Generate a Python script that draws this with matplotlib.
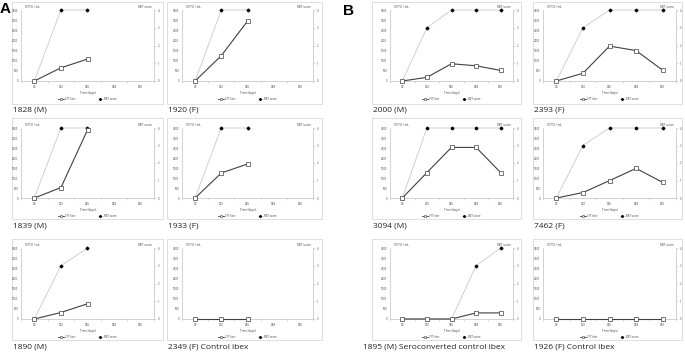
import numpy as np
import matplotlib.pyplot as plt
from matplotlib.patches import Rectangle
from matplotlib.lines import Line2D

W, H = 685, 352

days = ['D0', 'D20', 'D45', 'D68', 'D90']

# panel captions, A column pairs first then B
names = ['1828 (M)', '1920 (F)', '1839 (M)', '1933 (F)', '1890 (M)', '2349 (F) Control ibex',
         '2000 (M)', '2393 (F)', '3094 (M)', '7462 (F)',
         '1895 (M) Seroconverted control ibex', '1926 (F) Control ibex']

# CFT titer (ICFTU/mL)
cft = [[0, 650, 1080],
       [0, 1250, 2950],
       [0, 520, 3400],
       [0, 1250, 1700],
       [0, 320, 750],
       [0, 0, 0],
       [0, 180, 850, 750, 520],
       [0, 380, 1720, 1500, 530],
       [0, 1270, 2530, 2530, 1270],
       [0, 270, 870, 1480, 780],
       [0, 0, 0, 300, 300],
       [0, 0, 0, 0, 0]]

# RBT score
rbt = [[0, 4, 4],
       [0, 4, 4],
       [0, 4, 4],
       [0, 4, 4],
       [0, 3, 4],
       [0, 0, 0],
       [0, 3, 4, 4, 4],
       [0, 3, 4, 4, 4],
       [0, 4, 4, 4, 4],
       [0, 3, 4, 4, 4],
       [0, 0, 0, 3, 4],
       [0, 0, 0, 0, 0]]

# layout in pixels
cols = [(12, 21, 154, 163), (167, 182, 313, 322), (372, 390, 513, 521), (533, 543, 676, 682)]
rows = [(2, 10, 81, 104, 110), (118, 128, 198, 219, 226), (239, 248, 319, 340, 347)]
cap_x = {10: 363}

fig = plt.figure(figsize=(W / 100, H / 100), dpi=100)
plt.rcParams['font.family'] = ['Open Sans', 'DejaVu Sans']

edge = '#bfbfbf'
tfs = 2.0

for i in range(12):
    c = (i // 6) * 2 + (i % 2)
    r = (i % 6) // 2
    bl, pl, pr, br = cols[c]
    bt, pt, pb, bb, cy = rows[r]

    fig.patches.append(Rectangle((bl / W, 1 - bb / H), (br - bl) / W, (bb - bt) / H,
                                 transform=fig.transFigure, facecolor='white',
                                 edgecolor='#d9d9d9', lw=0.6, zorder=-5))

    ax = fig.add_axes([pl / W, 1 - pb / H, (pr - pl) / W, (pb - pt) / H])
    ax.set_facecolor('none')
    ax2 = ax.twinx()
    x = np.arange(len(cft[i]))

    ax2.plot(x, rbt[i], color='#c9c9c9', lw=0.6, marker='D', ms=1.4,
             mfc='black', mec='black', zorder=2, clip_on=False)
    ax.plot(x, cft[i], color='#404040', lw=0.8, marker='s', ms=2.4,
            mfc='white', mec='#404040', mew=0.5, zorder=3, clip_on=False)
    ax.set_zorder(ax2.get_zorder() + 1)

    ax.set_xlim(-0.5, 4.5)
    ax.set_ylim(0, 3500)
    ax2.set_ylim(0, 4)
    ax.set_yticks(np.arange(0, 3501, 500))
    ax2.set_yticks(range(5))
    ax.set_xticks(range(5))
    ax.set_xticklabels(days)
    ax.set_xticks(np.arange(-0.5, 4.6, 1), minor=True)

    for a in (ax, ax2):
        for s in a.spines.values():
            s.set_color(edge)
            s.set_linewidth(0.5)
        a.spines['top'].set_visible(False)
    ax.spines['right'].set_visible(False)
    ax2.spines['left'].set_visible(False)
    ax2.spines['bottom'].set_visible(False)

    ax.tick_params(axis='y', labelsize=tfs, length=0, pad=2, labelcolor='#404040')
    ax.tick_params(axis='x', which='major', labelsize=tfs, length=0, pad=3, labelcolor='#404040')
    ax.tick_params(axis='x', which='minor', length=1.5, width=0.4, color=edge)
    ax2.tick_params(axis='y', labelsize=tfs, length=1.5, width=0.4, color=edge, pad=1.5,
                    labelcolor='#404040')

    ax.text(0.03, 1.02, 'ICFTU / mL', transform=ax.transAxes, fontsize=2.2,
            color='#404040', va='bottom')
    ax.text(0.98, 1.02, 'RBT score', transform=ax.transAxes, fontsize=2.2,
            color='#404040', va='bottom', ha='right')
    ax.set_xlabel('Time (days)', fontsize=2.2, color='#404040', labelpad=1.5)

    h1 = Line2D([], [], color='#404040', lw=0.6, marker='s', ms=1.8, mfc='white',
                mec='#404040', mew=0.4)
    h2 = Line2D([], [], color='#c9c9c9', lw=0.6, marker='D', ms=1.0, mfc='black', mec='black')
    ax.legend([h1, h2], ['CFT titer', 'RBT score'], loc='center', bbox_to_anchor=(0.5, -0.255),
              ncol=2, frameon=False, fontsize=2.0, handlelength=2.0, columnspacing=8,
              handletextpad=0.4, labelcolor='#404040')

    fig.text(cap_x.get(i, bl + 1) / W, 1 - cy / H, names[i], fontsize=6, va='center',
             ha='left', color='#222222')

fig.text(0 / W, 1 - 2 / H, 'A', fontsize=11, fontweight='bold', va='top', ha='left',
         family='Liberation Sans')
fig.text(343 / W, 1 - 4 / H, 'B', fontsize=11, fontweight='bold', va='top', ha='left',
         family='Liberation Sans')

fig.savefig('out.png', dpi=100)
